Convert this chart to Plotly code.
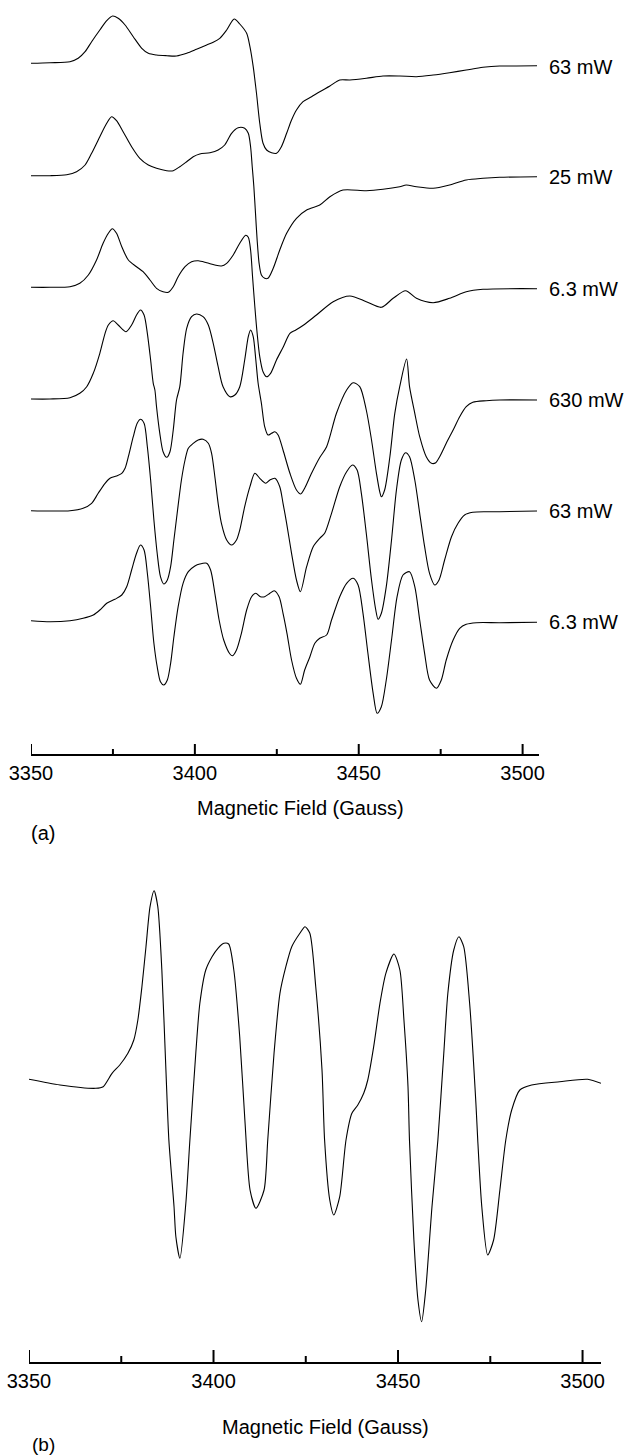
import plotly.graph_objects as go

# ---------------- data: panel (a) spectra (field in G, intensity in a.u.) -------------
field_a1 = [3350, 3355.8, 3361.9, 3364.4, 3366.5, 3368.5, 3371.0, 3373.1, 3374.9, 3376.6, 3378.7,
            3381.2, 3383.8, 3385.8, 3388.3, 3391.4, 3394.4, 3397.5, 3400.5, 3403.6, 3405.6, 3407.6,
            3409.7, 3412.0, 3413.7, 3415.8, 3416.8, 3417.8, 3418.8, 3419.8, 3420.8, 3421.9, 3423.4,
            3424.9, 3426.4, 3428.0, 3429.5, 3431.0, 3433.0, 3435.6, 3438.1, 3441.2, 3444.2, 3447.3,
            3452.3, 3457.4, 3462.5, 3467.6, 3472.7, 3477.7, 3482.8, 3487.9, 3493.0, 3498.1, 3504.4]
int_a1 = [0, 0.6, 1.6, 5, 11.6, 21.6, 33.3, 42.6, 47.3, 45, 38.3,
          26.6, 15, 10, 8.3, 7.6, 7.3, 10, 14, 18.3, 21, 25,
          33.3, 44.3, 39.3, 30, 16.6, -3.4, -30, -60, -80, -86.7, -89.4,
          -90, -83.4, -70, -56.7, -46.7, -38.4, -33.4, -28.4, -22.7, -16.7, -16.7,
          -15, -12.7, -12.7, -13.4, -11.7, -9.4, -6.7, -4, -2.7, -2.7, -2.4]

field_a2 = [3350, 3355.8, 3360.9, 3363.9, 3366.5, 3368.5, 3371.0, 3373.1, 3374.6, 3376.1, 3378.1,
            3380.7, 3383.2, 3385.8, 3388.3, 3391.4, 3393.4, 3395.4, 3397.5, 3399.5, 3401.5, 3404.6,
            3407.1, 3409.1, 3411.2, 3413.2, 3415.2, 3416.3, 3417.0, 3417.5, 3418.0, 3418.5, 3419.0,
            3419.6, 3420.3, 3421.3, 3422.3, 3423.9, 3425.9, 3428.0, 3431.0, 3434.1, 3438.1, 3441.2,
            3445.2, 3452.3, 3457.4, 3462.5, 3464.5, 3467.6, 3472.7, 3477.7, 3482.8, 3487.9, 3493.0,
            3504.4]
int_a2 = [0, 0, 1, 4, 10.7, 22.4, 39, 52.4, 59, 55, 44,
          29, 17.4, 10.7, 7.4, 5, 5, 9, 14, 19, 21.7, 23,
          25.7, 30.7, 42.4, 48, 47.4, 42.4, 29, 9, -11, -37.6, -64.3,
          -87.6, -99.3, -102.6, -102.6, -92.6, -74.3, -57.6, -42.6, -34.3, -29.3, -21,
          -14.3, -15, -13.6, -11, -9.3, -11, -12.6, -9.3, -4.3, -2.6, -1.6,
          -1]

field_a3 = [3350, 3355.8, 3361.9, 3364.9, 3367.5, 3370.0, 3372.0, 3373.6, 3374.8, 3376.1, 3377.7,
            3379.7, 3382.2, 3384.2, 3386.3, 3388.3, 3390.3, 3391.9, 3393.4, 3394.9, 3397.0, 3399.0,
            3401.0, 3403.6, 3406.1, 3408.1, 3409.7, 3411.7, 3413.7, 3415.5, 3416.3, 3417.0, 3417.6,
            3418.3, 3419.0, 3419.8, 3420.8, 3421.9, 3423.1, 3424.9, 3427.0, 3429.0, 3430.8, 3433.2,
            3437.1, 3442.2, 3447.3, 3452.3, 3456.9, 3460.5, 3464.3, 3467.6, 3472.7, 3477.7, 3482.8,
            3487.9, 3504.4]
int_a3 = [0, 0, 0.6, 4, 12.3, 27.3, 44, 54, 58.6, 54, 40.6,
          27.3, 20.6, 15.6, 7.3, -1, -4.4, -5, 0.6, 10.6, 20.6, 25.6,
          26.6, 24.6, 22.3, 21.3, 24, 32.3, 44, 52, 50, 37.3, 10.6,
          -19.4, -46, -69.4, -84.4, -89.4, -86, -72.7, -59.4, -46, -42.7, -37.7,
          -27.7, -14.4, -8.7, -14.4, -20, -11, -3.4, -11, -15.4, -11, -4.4,
          -2, -1.4]

field_a4 = [3350, 3355.8, 3361.9, 3364.9, 3367.0, 3369.0, 3371.0, 3372.6, 3373.6, 3375.1, 3376.6,
            3379.0, 3380.7, 3382.2, 3383.4, 3384.5, 3385.5, 3386.5, 3387.3, 3387.8, 3388.3, 3389.3,
            3390.3, 3391.4, 3392.4, 3393.4, 3394.4, 3395.4, 3396.4, 3397.5, 3399.0, 3400.5, 3402.5,
            3404.1, 3405.6, 3407.1, 3408.6, 3410.7, 3412.2, 3413.7, 3415.2, 3416.3, 3417.0, 3417.8,
            3418.6, 3419.3, 3420.3, 3421.3, 3422.3, 3423.4, 3424.4, 3425.4, 3426.9, 3429.0, 3431.0,
            3432.3, 3433.5, 3435.6, 3438.1, 3440.2, 3443.2, 3446.3, 3448.3, 3450.3, 3452.3, 3453.9,
            3455.4, 3456.4, 3456.9, 3457.9, 3459.5, 3461.0, 3462.5, 3464.6, 3465.5, 3467.1, 3468.6,
            3470.6, 3472.2, 3473.5, 3474.7, 3476.7, 3478.8, 3480.8, 3482.8, 3484.8, 3488.9, 3493.0,
            3504.4]
int_a4 = [0, 0, 1.3, 5.7, 12.3, 25.7, 45.7, 65.7, 74, 78.3, 74,
          67.3, 74, 84, 89, 84, 65.7, 39, 15.7, 9, -7.7, -34.3,
          -52.7, -58.3, -52.7, -31, -1, 12.3, 45.7, 70.7, 82.3, 85, 82.3,
          74, 55.7, 32.3, 12.3, 2.3, 4, 12.3, 39, 62.3, 69, 62.3,
          39, 15.7, -4.3, -27.7, -36, -34.3, -32.7, -36, -51, -74.3, -91,
          -95, -89.3, -74.3, -58.5, -47.7, -14.3, 9, 16.3, 12.3, -11, -41,
          -74.3, -92.7, -97.7, -91, -57.7, -14.3, 12.3, 40, 12.3, -14.3, -37.7,
          -57.7, -64.3, -63.7, -57.7, -44.3, -31, -17.7, -7.7, -3.3, -1.7, -1,
          -1]

field_a5 = [3350, 3355.8, 3361.9, 3365.9, 3368.5, 3370.5, 3372.6, 3374.1, 3376.1, 3377.7, 3378.7,
            3379.7, 3381.2, 3382.4, 3383.4, 3384.5, 3385.5, 3386.5, 3387.5, 3388.5, 3389.5, 3390.5,
            3391.6, 3392.6, 3393.6, 3394.6, 3395.9, 3397.0, 3398.0, 3399.5, 3401.0, 3402.5, 3404.1,
            3405.1, 3406.1, 3407.1, 3408.1, 3409.7, 3411.2, 3412.7, 3413.7, 3415.2, 3416.8, 3418.3,
            3419.8, 3421.6, 3422.9, 3424.4, 3425.9, 3426.9, 3428.0, 3429.5, 3431.0, 3432.2, 3434.1,
            3436.1, 3438.1, 3439.6, 3441.7, 3444.2, 3446.3, 3448.1, 3449.5, 3450.8, 3452.3, 3453.9,
            3455.2, 3455.9, 3456.9, 3458.4, 3460.0, 3461.5, 3463.0, 3464.3, 3465.5, 3467.1, 3468.6,
            3470.1, 3471.6, 3473.2, 3474.5, 3476.2, 3478.3, 3480.3, 3482.3, 3484.8, 3488.9, 3493.0,
            3504.4]
int_a5 = [0, -0.3, 0, 2.4, 7.4, 17.4, 27.4, 32.4, 34.7, 37.4, 42.4,
          54, 74, 87.4, 91.4, 87.4, 64, 30.7, -9.3, -42.6, -66, -73.3,
          -69.3, -56, -29.3, -2.6, 30.7, 50.7, 62.4, 67.4, 70.7, 71.4, 67.4,
          57.4, 34, 7.4, -12.6, -29.3, -34.3, -29.3, -19.3, 4, 24, 37.4,
          32.4, 27.4, 30.7, 32.4, 24, 7.4, -12.6, -42.6, -69.3, -81, -56,
          -36, -27.6, -22.6, -2.6, 24, 39, 45.7, 40.7, 17.4, -22.6, -69.3,
          -99.3, -108.6, -102.6, -76, -29.3, 20.7, 50.7, 58, 54, 30.7, -2.6,
          -36, -62.6, -74.3, -69.3, -49.3, -26, -12.6, -4.3, -1.6, -1, -1,
          -0.3]

field_a6 = [3350, 3355.8, 3361.9, 3365.9, 3369.0, 3371.0, 3373.1, 3375.6, 3377.7, 3379.2, 3380.7,
            3382.2, 3383.4, 3384.5, 3385.5, 3386.5, 3387.5, 3388.5, 3389.5, 3390.5, 3391.6, 3392.6,
            3393.6, 3394.9, 3396.4, 3398.0, 3400.0, 3401.5, 3403.6, 3404.8, 3406.1, 3407.4, 3408.8,
            3410.7, 3411.5, 3412.7, 3414.2, 3415.8, 3417.3, 3418.6, 3420.0, 3421.3, 3422.9, 3424.2,
            3425.7, 3426.9, 3428.1, 3429.5, 3431.0, 3432.2, 3433.5, 3435.1, 3436.6, 3438.1, 3440.2,
            3441.7, 3444.2, 3446.3, 3448.3, 3449.8, 3451.3, 3452.8, 3454.4, 3455.6, 3456.9, 3458.4,
            3460.0, 3461.7, 3463.5, 3465.5, 3467.1, 3468.6, 3470.1, 3471.6, 3473.7, 3475.2, 3476.7,
            3478.8, 3480.8, 3482.8, 3485.9, 3493.0, 3504.4]
int_a6 = [0, -1, 0, 2.4, 5.7, 10.7, 17.4, 21.4, 25.7, 34, 50.7,
          67.4, 75.7, 70.7, 47.4, 14, -22.6, -46, -61, -64.3, -59.3, -42.6,
          -16, 14, 37.4, 49, 54.7, 56.7, 57.4, 50.7, 27.4, 0.7, -19.3,
          -33.3, -35, -29.3, -12.6, 10.7, 24, 27.4, 24, 24, 27.4, 30,
          24, 7.4, -12.6, -39.3, -57.6, -63.6, -49.3, -36, -22.6, -17.6, -14.3,
          0.7, 24, 37.4, 42.4, 35.7, 7.4, -32.6, -72.6, -92.6, -86, -59.3,
          -19.3, 24, 45.7, 49, 34, 0.7, -32.6, -59.3, -67.6, -59.3, -39.3,
          -19.3, -7.6, -3.6, -2, -2, -1.6]

# ---------------- data: panel (b) spectrum ----------------
field_b = [3350, 3358.4, 3368.1, 3370.1, 3372.5, 3374.6, 3376.8, 3378.4, 3379.5, 3380.6, 3381.7,
           3382.8, 3383.9, 3384.9, 3386.0, 3387.1, 3387.9, 3389.3, 3389.8, 3390.9, 3392.5, 3393.6,
           3395.2, 3396.3, 3397.9, 3399.6, 3401.2, 3402.8, 3404.1, 3405.5, 3407.1, 3408.5, 3409.9,
           3411.5, 3413.7, 3414.7, 3416.4, 3418.0, 3419.6, 3421.2, 3423.4, 3424.8, 3426.1, 3427.7,
           3429.4, 3430.1, 3431.5, 3432.6, 3434.2, 3435.9, 3437.5, 3439.1, 3440.7, 3441.8, 3443.4,
           3445.1, 3446.7, 3448.9, 3450.5, 3451.6, 3452.7, 3453.1, 3454.3, 3455.4, 3456.4, 3457.5,
           3459.2, 3460.8, 3462.4, 3463.5, 3465.1, 3466.5, 3467.8, 3469.4, 3471.1, 3471.6, 3472.7,
           3474.3, 3475.9, 3477.6, 3479.2, 3480.8, 3483.0, 3486.2, 3493.8, 3501.4, 3505]
int_b = [1.7, -4, -7.3, -5.7, 7.7, 16, 27.7, 41, 61, 94.3, 134.3,
         174.3, 190.3, 174.3, 111, 11, -59, -125.7, -155.7, -177.3, -122.3, -59,
         28, 77.7, 111, 124.3, 132.7, 137.7, 137, 111, 44.3, -39, -109,
         -127.3, -109, -59, 27.7, 87.7, 114.3, 134.3, 147.7, 154.3, 147.7, 94.3,
         11, -59, -119, -134, -115.7, -59, -32.3, -24, -12.3, 1, 34.3,
         77.7, 107.7, 127, 111, 61, -5.7, -59, -159, -219, -240.7, -209,
         -125.7, -59, 27.7, 87.7, 131, 144.3, 134.3, 77.7, -22.3, -59, -125.7,
         -174, -159, -109, -59, -29, -9, -4, -0.7, 1.7, -2.3]

power_labels = ["63 mW", "25 mW", "6.3 mW", "630 mW", "63 mW", "6.3 mW"]
major_ticks = [3350, 3400, 3450, 3500]
minor_ticks = [3375, 3425, 3475]
axis_title = "Magnetic Field (Gauss)"

# ---------------- layout helpers (pixel geometry of the page) ----------------
W, H = 625, 1456
FONT = "Arial, Liberation Sans, sans-serif"


def px(x):
    return x / W


def py(y):
    return 1 - y / H


# vertical stacking of the panel (a) traces (layout, not data)
stack_a = [690.7, 578.3, 466.7, 355.0, 243.3, 133.3]
label_y_a = [67, 177, 289, 400, 511, 622]
RANGE_A = [0, 754]
RANGE_B = [-281, 231]

fig = go.Figure()

fields_a = [field_a1, field_a2, field_a3, field_a4, field_a5, field_a6]
ints_a = [int_a1, int_a2, int_a3, int_a4, int_a5, int_a6]
for f, v, off in zip(fields_a, ints_a, stack_a):
    fig.add_trace(go.Scatter(
        x=f, y=[off + s for s in v], mode="lines",
        line=dict(color="black", width=1.1, shape="spline", smoothing=0.8),
        xaxis="x", yaxis="y", showlegend=False, hoverinfo="skip"))

fig.add_trace(go.Scatter(
    x=field_b, y=int_b, mode="lines",
    line=dict(color="black", width=1.1, shape="spline", smoothing=0.7),
    xaxis="x2", yaxis="y2", showlegend=False, hoverinfo="skip"))


def tick_marks(ticks, base, length, xa, ya):
    """Upward-pointing axis tick marks, drawn on the panel's own axes."""
    xs, ys = [], []
    for t in ticks:
        xs += [t, t, None]
        ys += [base, base + length, None]
    return go.Scatter(x=xs, y=ys, mode="lines", line=dict(color="black", width=2),
                      xaxis=xa, yaxis=ya, showlegend=False, hoverinfo="skip",
                      cliponaxis=False)


fig.add_trace(tick_marks(major_ticks, RANGE_A[0], 10, "x", "y"))
fig.add_trace(tick_marks(minor_ticks, RANGE_A[0], 5, "x", "y"))
fig.add_trace(tick_marks(major_ticks, RANGE_B[0], 12, "x2", "y2"))
fig.add_trace(tick_marks(minor_ticks, RANGE_B[0], 6, "x2", "y2"))

label_axis = dict(
    range=[3350, 3505], showgrid=False, zeroline=False, automargin=False,
    showline=True, linecolor="black", linewidth=2, ticks="",
    tickmode="array", tickvals=major_ticks, ticktext=[str(t) for t in major_ticks],
    tickfont=dict(family=FONT, size=20, color="black"),
    ticklabelstandoff=0, fixedrange=True,
)

fig.update_layout(
    template="none",
    width=W, height=H, margin=dict(l=0, r=0, t=0, b=0, pad=0, autoexpand=False),
    paper_bgcolor="white", plot_bgcolor="rgba(0,0,0,0)",
    xaxis=dict(domain=[px(31), px(539)], anchor="y", **label_axis),
    yaxis=dict(domain=[py(754), 1.0], range=RANGE_A, visible=False, fixedrange=True,
               automargin=False),
    xaxis2=dict(domain=[px(29), px(601)], anchor="y2", **label_axis),
    yaxis2=dict(domain=[py(1362), py(850)], range=RANGE_B, visible=False,
                fixedrange=True, automargin=False),
)

annotations = []
for lab, ly in zip(power_labels, label_y_a):
    annotations.append(dict(x=px(547), y=py(ly), xref="paper", yref="paper",
                            text=lab, showarrow=False, xanchor="left", yanchor="middle",
                            font=dict(family=FONT, size=20, color="black")))
annotations.append(dict(x=px(300), y=py(808), xref="paper", yref="paper", text=axis_title,
                        showarrow=False, xanchor="center", yanchor="middle",
                        font=dict(family=FONT, size=20, color="black")))
annotations.append(dict(x=px(326), y=py(1427), xref="paper", yref="paper", text=axis_title,
                        showarrow=False, xanchor="center", yanchor="middle",
                        font=dict(family=FONT, size=20, color="black")))
annotations.append(dict(x=px(43), y=py(833), xref="paper", yref="paper", text="(a)",
                        showarrow=False, xanchor="center", yanchor="middle",
                        font=dict(family=FONT, size=20, color="black")))
annotations.append(dict(x=px(43), y=py(1444), xref="paper", yref="paper", text="(b)",
                        showarrow=False, xanchor="center", yanchor="middle",
                        font=dict(family=FONT, size=19, color="black")))
fig.update_layout(annotations=annotations)

fig.write_html("out.html")
